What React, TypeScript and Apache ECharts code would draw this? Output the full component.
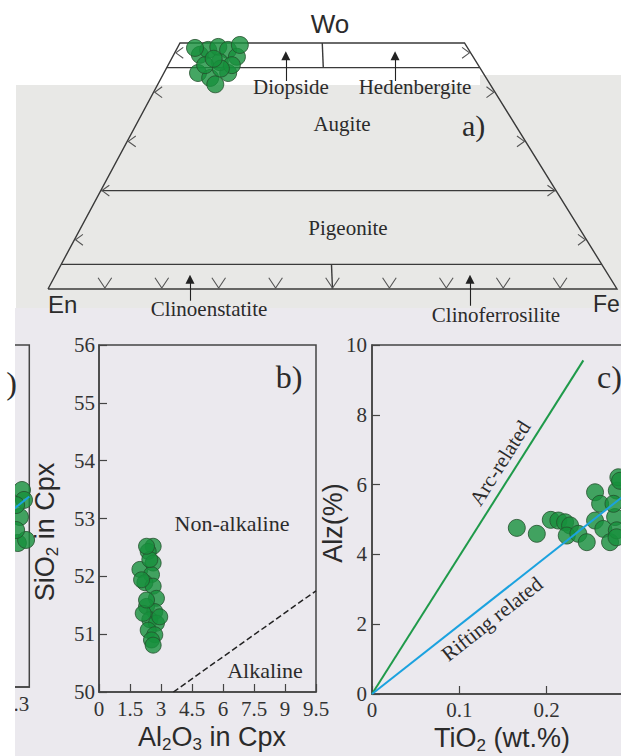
import React, { useEffect, useRef } from "react";
import * as echarts from "echarts";

// ---------- Panel a: pyroxene quadrilateral (Wo - En - Fs) ----------
const A_BOUNDARY_WO = [45, 20, 5];
const A_SIDE_TICK_WO = [48, 40, 30, 20, 10];
const A_BOTTOM_TICK_FS = [10, 20, 30, 40, 50, 60, 70, 80, 90];
// sample points (Wo %, Fs %)
const A_WO = [47.6, 48.6, 49.2, 48.6, 47.2, 43.9, 42.9, 43.9, 46.1, 45.5, 45.5, 41.6, 49.6, 49.0, 44.8, 46.8];
const A_FS = [4.6, 5.6, 7.1, 9.1, 11.3, 6.0, 8.6, 11.3, 8.8, 6.5, 11.2, 10.1, 10.7, 3.1, 9.6, 7.4];
// leader arrows (projected x, from Wo, to Wo)
const A_LEADER_X = [41.8, 61.0, 24.96, 74.17];
const A_LEADER_FROM = [42.3, 42.3, -2.4, -3.4];
const A_LEADER_TO = [47.4, 47.4, 2.0, 2.0];

// ---------- Panel b: SiO2 vs Al2O3 ----------
const B_AL2O3 = [2.62, 2.38, 1.98, 2.62, 2.54, 2.22, 2.62, 2.78, 2.30, 2.70, 2.46, 2.78, 2.38, 2.70, 2.54, 2.62, 2.14, 2.94, 2.06, 2.30, 2.46, 2.30];
const B_SIO2 = [52.52, 52.43, 52.12, 52.23, 52.03, 51.89, 51.83, 51.62, 51.48, 51.39, 51.25, 51.19, 51.07, 50.99, 50.90, 50.81, 51.36, 51.30, 51.94, 51.59, 52.29, 52.52];
const B_X_TICK_LABELS = ["0", "1.5", "3", "4.5", "6", "7.5", "9", "9.5"];
const B_DIVIDE_X = [3.6, 10.5];
const B_DIVIDE_Y = [50, 51.75];

// ---------- Panel c: Alz vs TiO2 ----------
const C_TIO2 = [0.1658, 0.1887, 0.2047, 0.2134, 0.2211, 0.2268, 0.2230, 0.2363, 0.2459, 0.2554, 0.2612, 0.2554, 0.2649, 0.2726, 0.2803, 0.2784, 0.2803, 0.2821, 0.2765, 0.2800, 0.2840];
const C_ALZ = [4.76, 4.59, 4.99, 4.97, 4.92, 4.83, 4.54, 4.59, 4.35, 5.78, 5.45, 4.97, 4.73, 4.35, 5.83, 5.07, 4.69, 6.21, 5.45, 4.49, 6.11];
const C_X_TICK_LABELS = ["0", "0.1", "0.2", "0.3"];
const C_ARC_X = [0, 0.242];
const C_ARC_Y = [0, 9.56];
const C_RIFT_X = [0, 0.3];
const C_RIFT_Y = [0, 5.91];

// ---------- Panel d (cropped at left edge) ----------
const D_TIO2 = [0.275, 0.282, 0.268, 0.261, 0.289, 0.255, 0.255];
const D_ALZ = [5.76, 5.47, 4.97, 4.21, 4.30, 5.32, 4.59];
const D_LINE_X = [0.2, 0.3];
const D_LINE_Y = [4.88, 5.57];

// ---------- styles ----------
const SERIF = "Liberation Serif";
const SANS = "Liberation Sans";
const INK = "#2b2b2b";
const FRAME = "#444444";
const PT_FILL = "#17903c";
const PT_EDGE = "#24502d";
const ARC_COLOR = "#1f9a4a";
const RIFT_COLOR = "#1ba2df";

const SHEAR = 0.464;
const proj = (wo: number, fs: number): [number, number] => [fs + SHEAR * wo, wo];

const A_PPU = 4.92; // px per Wo unit
const A_TOP = 43 - 5 * A_PPU;
const A_H = 65 * A_PPU;

function txt(text: string, x: number, y: number, size: number, family: string, opt: any = {}) {
  return {
    type: "text",
    x,
    y,
    z: opt.z ?? 10,
    rotation: opt.rot ?? 0,
    silent: true,
    style: {
      text,
      font: `${size}px "${family}"`,
      fill: opt.fill ?? INK,
      align: opt.align ?? "center",
      verticalAlign: "middle",
      textAlign: opt.align ?? "center",
      textVerticalAlign: "middle",
      rich: opt.rich,
    },
  };
}

function subRich(size: number) {
  return {
    m: { fontSize: size, fontFamily: SANS, lineHeight: size + 4, verticalAlign: "middle", color: INK },
    s: { fontSize: Math.round(size * 0.62), fontFamily: SANS, lineHeight: Math.round(size * 0.62), verticalAlign: "bottom", color: INK },
  };
}

function valueAxis(gridIndex: number, min: number, max: number, interval: number, extra: any = {}) {
  return {
    type: "value",
    gridIndex,
    min,
    max,
    interval,
    splitLine: { show: false },
    axisLine: { show: true, lineStyle: { color: FRAME, width: 1.5 } },
    axisTick: { show: true, inside: true, length: 8, lineStyle: { color: FRAME, width: 1.2 } },
    axisLabel: { fontFamily: SERIF, fontSize: 21, color: "#333", margin: 6 },
    ...extra,
  };
}

const gridBase = { containLabel: false, outerBoundsMode: "none" };

export default function App() {
  const ref = useRef<HTMLDivElement>(null);

  useEffect(() => {
    if (!ref.current) return;
    const chart = echarts.init(ref.current, undefined, { renderer: "svg" });

    // panel a geometry
    const aFrame: number[][][] = [];
    aFrame.push([proj(0, 0), proj(0, 100), proj(50, 50), proj(50, 0), proj(0, 0)]);
    A_BOUNDARY_WO.forEach((w) => aFrame.push([proj(w, 0), proj(w, 100 - w)]));
    aFrame.push([proj(50, 25), proj(45, 27.5)]);
    aFrame.push([proj(5, 47.5), proj(0, 50)]);

    const aTicks: number[][][] = [];
    A_SIDE_TICK_WO.forEach((w) => {
      const lx = proj(w, 0)[0];
      aTicks.push([[lx + 1.5, w + 1.1], [lx + 0.2, w], [lx + 1.5, w - 1.1]]);
      const rx = proj(w, 100 - w)[0];
      aTicks.push([[rx - 1.5, w + 1.1], [rx - 0.2, w], [rx - 1.5, w - 1.1]]);
    });
    A_BOTTOM_TICK_FS.forEach((f) => aTicks.push([[f - 1.2, 2.3], [f, 0.2], [f + 1.2, 2.3]]));

    const aLeaders = A_LEADER_X.map((x, i) => ({ coords: [[x, A_LEADER_FROM[i]], [x, A_LEADER_TO[i]]] }));
    const aPoints = A_WO.map((w, i) => proj(w, A_FS[i]));

    const ptStyle = { color: PT_FILL, borderColor: PT_EDGE, borderWidth: 1 };

    const subSize = 27;

    const option: any = {
      animation: false,
      backgroundColor: "#ffffff",
      grid: [
        { ...gridBase, left: 48, width: 569, top: A_TOP, height: A_H, show: false },
        { ...gridBase, left: 99, top: 345, width: 217, height: 347, show: true, borderColor: FRAME, borderWidth: 1.5, backgroundColor: "transparent" },
        { ...gridBase, left: 372, top: 345, width: 262, height: 349, show: true, borderColor: FRAME, borderWidth: 1.5, backgroundColor: "transparent" },
        { ...gridBase, left: 0, top: 345, width: 29.3, height: 342, show: true, borderColor: FRAME, borderWidth: 1.5, backgroundColor: "transparent" },
      ],
      xAxis: [
        { type: "value", gridIndex: 0, min: 0, max: 100, show: false },
        valueAxis(1, 0, 10.5, 1.5, {
          axisLabel: {
            fontFamily: SERIF, fontSize: 21, color: "#333", margin: 6,
            formatter: (v: number) => B_X_TICK_LABELS[Math.round(v / 1.5)] ?? "",
          },
        }),
        valueAxis(2, 0, 0.3, 0.1, {
          axisLabel: {
            fontFamily: SERIF, fontSize: 21, color: "#333", margin: 5,
            formatter: (v: number) => C_X_TICK_LABELS[Math.round(v * 10)] ?? "",
          },
        }),
        valueAxis(3, 0.2, 0.3, 0.1, {
          axisTick: { show: false },
          axisLabel: {
            fontFamily: SERIF, fontSize: 21, color: "#333", margin: 6,
            alignMaxLabel: "right",
            formatter: (v: number) => (Math.abs(v - 0.3) < 1e-6 ? "0.3" : ""),
          },
        }),
      ],
      yAxis: [
        { type: "value", gridIndex: 0, min: -10, max: 55, show: false },
        valueAxis(1, 50, 56, 1, { axisLabel: { fontFamily: SERIF, fontSize: 21, color: "#333", margin: 4 } }),
        valueAxis(2, 0, 10, 2, { axisLabel: { fontFamily: SERIF, fontSize: 21, color: "#333", margin: 5 } }),
        valueAxis(3, 0, 10, 2, { axisTick: { show: false }, axisLabel: { show: false } }),
      ],
      series: [
        {
          type: "lines", coordinateSystem: "cartesian2d", xAxisIndex: 0, yAxisIndex: 0, polyline: true,
          lineStyle: { color: "#3a3a3a", width: 1.4, opacity: 1 },
          data: aFrame.map((c) => ({ coords: c })),
        },
        {
          type: "lines", coordinateSystem: "cartesian2d", xAxisIndex: 0, yAxisIndex: 0, polyline: true,
          lineStyle: { color: "#555", width: 1.1, opacity: 1 },
          data: aTicks.map((c) => ({ coords: c })),
        },
        {
          type: "lines", coordinateSystem: "cartesian2d", xAxisIndex: 0, yAxisIndex: 0,
          symbol: ["none", "triangle"], symbolSize: 9,
          lineStyle: { color: "#222", width: 1.1, opacity: 1 },
          data: aLeaders,
        },
        {
          type: "scatter", xAxisIndex: 0, yAxisIndex: 0, symbolSize: 17, itemStyle: ptStyle,
          data: aPoints,
        },
        // panel b
        {
          type: "line", xAxisIndex: 1, yAxisIndex: 1, showSymbol: false, symbol: "none",
          lineStyle: { color: "#222", width: 1.5, type: [6, 3] },
          data: B_DIVIDE_X.map((x, i) => [x, B_DIVIDE_Y[i]]),
        },
        {
          type: "scatter", xAxisIndex: 1, yAxisIndex: 1, symbolSize: 16, itemStyle: ptStyle,
          data: B_AL2O3.map((x, i) => [x, B_SIO2[i]]),
        },
        // panel c
        {
          type: "line", xAxisIndex: 2, yAxisIndex: 2, showSymbol: false, symbol: "none",
          lineStyle: { color: ARC_COLOR, width: 2 },
          data: C_ARC_X.map((x, i) => [x, C_ARC_Y[i]]),
        },
        {
          type: "line", xAxisIndex: 2, yAxisIndex: 2, showSymbol: false, symbol: "none",
          lineStyle: { color: RIFT_COLOR, width: 2 },
          data: C_RIFT_X.map((x, i) => [x, C_RIFT_Y[i]]),
          z: 4,
        },
        {
          type: "scatter", xAxisIndex: 2, yAxisIndex: 2, symbolSize: 17, itemStyle: ptStyle, z: 3,
          data: C_TIO2.map((x, i) => [x, C_ALZ[i]]),
        },
        // panel d
        {
          type: "scatter", xAxisIndex: 3, yAxisIndex: 3, symbolSize: 17, itemStyle: ptStyle, z: 3,
          data: D_TIO2.map((x, i) => [x, D_ALZ[i]]),
        },
        {
          type: "line", xAxisIndex: 3, yAxisIndex: 3, showSymbol: false, symbol: "none",
          lineStyle: { color: RIFT_COLOR, width: 2 }, z: 4,
          data: D_LINE_X.map((x, i) => [x, D_LINE_Y[i]]),
        },
      ],
      graphic: {
        elements: [
          // backgrounds
          { type: "rect", z: -1, silent: true, shape: { x: 16, y: 85, width: 464, height: 223 }, style: { fill: "#e8e8e6" } },
          { type: "rect", z: -1, silent: true, shape: { x: 480, y: 75, width: 141, height: 233 }, style: { fill: "#e8e8e6" } },
          { type: "rect", z: -1, silent: true, shape: { x: 15, y: 308, width: 606, height: 448 }, style: { fill: "#ebe9ee" } },
          // white strip on the left edge
          { type: "rect", z: 50, silent: true, shape: { x: 0, y: 330, width: 15, height: 426 }, style: { fill: "#ffffff" } },
          // panel a labels
          txt("Wo", 330, 24, 26, SANS),
          txt("Diopside", 291, 87, 21, SERIF),
          txt("Hedenbergite", 415, 87, 21, SERIF),
          txt("Augite", 342, 124, 21, SERIF),
          txt("a)", 462, 125, 30, SERIF, { align: "left" }),
          txt("Pigeonite", 348, 228, 21, SERIF),
          txt("En", 48, 304, 24, SANS, { align: "left" }),
          txt("Fe", 593, 304, 23, SANS, { align: "left" }),
          txt("Clinoenstatite", 209, 309, 21, SERIF),
          txt("Clinoferrosilite", 496, 315, 21, SERIF),
          // panel b labels
          txt("b)", 289, 377, 32, SERIF),
          txt("Non-alkaline", 232, 523, 22, SERIF),
          txt("Alkaline", 265, 670, 22, SERIF),
          txt("{m|SiO}{s|2}{m| in Cpx}", 45, 532, subSize, SANS, { rot: Math.PI / 2, rich: subRich(subSize) }),
          txt("{m|Al}{s|2}{m|O}{s|3}{m| in Cpx}", 212, 737, subSize, SANS, { rich: subRich(subSize) }),
          // panel c labels
          txt("c)", 597, 377, 32, SERIF, { align: "left" }),
          txt("Arc-related", 500, 463, 21, SERIF, { rot: 1.009 }),
          txt("Rifting related", 492, 619, 21, SERIF, { rot: 0.668 }),
          txt("Alz(%)", 333, 523, subSize, SANS, { rot: Math.PI / 2 }),
          txt("{m|TiO}{s|2}{m| (wt.%)}", 502, 738, subSize, SANS, { rich: subRich(subSize) }),
          // panel d label fragment
          txt(")", 17, 383, 32, SERIF, { align: "right", z: 60 }),
        ],
      },
    };

    chart.setOption(option);
    return () => chart.dispose();
  }, []);

  return (
    <div
      ref={ref}
      style={{ position: "absolute", left: 0, top: 0, width: 621, height: 756, background: "#fff" }}
    />
  );
}
